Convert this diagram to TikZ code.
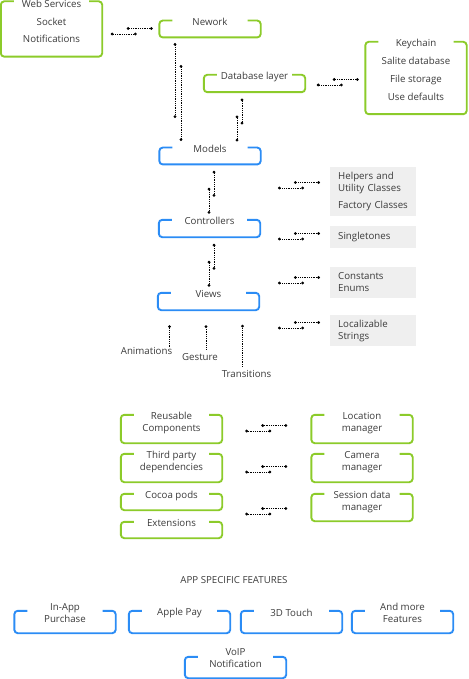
\documentclass[tikz,border=0pt]{standalone}
\usepackage{fontspec}
\setmainfont{Open Sans}
\usepackage{tikz}
\usetikzlibrary{calc,arrows.meta}
\definecolor{leaf}{HTML}{8CCB2A}
\definecolor{sky}{HTML}{2B8CF5}
\definecolor{mist}{HTML}{EFEFEF}
\definecolor{ink}{HTML}{3B3B3B}

\begin{document}
\begin{tikzpicture}[
  x=1pt, y=-1pt,
  font=\fontsize{9.7}{12}\selectfont,
  text=ink,
  inner sep=0pt,
  panel/.style={
    minimum width=101pt,
    minimum height=#1,
  },
  txt/.style={anchor=north, yshift=3pt, align=center},
  ctr/.style={anchor=center, yshift=-2.3pt, align=center},
  bracket/.style={
    line width=1.9pt,
    rounded corners=3.5pt,
  },
  note/.style={
    fill=mist,
    text width=70pt,
    align=left,
    inner xsep=8pt,
    minimum height=#1,
    anchor=west,
  },
  dotlink/.style={
    line width=0.7pt,
    dash pattern=on 0.7pt off 1.1pt,
    {Circle[length=2.8pt]}-{Circle[length=2.8pt]},
  },
  stem/.style={
    line width=0.7pt,
    dash pattern=on 0.7pt off 1.1pt,
    -{Circle[length=2.8pt]},
  }]
  \useasboundingbox (0,0) rectangle (468,679);

  % top part
  \node[panel=55pt, label={[txt, yshift=-2pt]north:{Web Services\\[5.5pt]Socket\\[5.5pt]Notifications}}] (web) at (51.5,29) {};
  \node[panel=16.5pt, label={[txt]north:{Nework}}] (net) at (210,29) {};
  \node[panel=17pt, label={[txt]north:{Database layer}}] (db) at (254.5,83.5) {};
  \node[panel=72pt, label={[txt]north:{Keychain\\[6pt]Salite database\\[6pt]File storage\\[6pt]Use defaults}}] (keys) at (416,78) {};
  \node[panel=16.5pt, label={[txt]north:{Models}}] (models) at (210,156) {};
  \node[panel=17pt, label={[txt]north:{Controllers}}] (ctrl) at (209.5,228.5) {};
  \node[panel=17pt, label={[txt]north:{Views}}] (views) at (208.5,301.5) {};

  \node[note=49pt] (help) at (330,191.5) {Helpers~and\\Utility~Classes\\[5pt]Factory~Classes};
  \node[note=22pt] (single) at (330,237) {Singletones};
  \node[note=31pt] (const) at (330,282.5) {Constants\\Enums};
  \node[note=31pt] (local) at (330,330.5) {Localizable\\Strings};

  \node (anim) at (146.5,351) {Animations};
  \node (gest) at (200,357) {Gesture};
  \node (trans) at (246.5,374) {Transitions};

  % middle part
  \node[panel=28pt, label={[txt]north:{Reusable\\Components}}] (reuse) at (171.5,429) {};
  \node[panel=28pt, label={[txt]north:{Third party\\dependencies}}] (third) at (171.5,468) {};
  \node[panel=16pt, label={[txt]north:{Cocoa pods}}] (pods) at (171.5,502) {};
  \node[panel=16pt, label={[txt]north:{Extensions}}] (ext) at (171.5,530) {};
  \node[panel=28pt, label={[txt]north:{Location\\manager}}] (loc) at (362,429) {};
  \node[panel=28pt, label={[txt]north:{Camera\\manager}}] (cam) at (362,468) {};
  \node[panel=27pt, label={[txt]north:{Session data\\manager}}] (sess) at (362,507.5) {};

  % app specific features
  \node (head) at (234,580) {APP SPECIFIC FEATURES};
  \node[panel=22pt, label={[ctr]north:{In-App\\Purchase}}] (iap) at (65,622) {};
  \node[panel=22pt, label={[ctr]north:{Apple Pay}}] (pay) at (179.5,622) {};
  \node[panel=22pt, label={[ctr]north:{3D Touch}}] (touch) at (291.5,622) {};
  \node[panel=22pt, label={[ctr]north:{And more\\Features}}] (more) at (402.5,622) {};
  \node[panel=21pt, label={[ctr, yshift=1.5pt]north:{VoIP\\Notification}}] (voip) at (235.5,667.5) {};

  \foreach \n/\c in {web/leaf, net/leaf, db/leaf, keys/leaf, reuse/leaf, third/leaf, pods/leaf, ext/leaf, loc/leaf, cam/leaf, sess/leaf, models/sky, ctrl/sky, views/sky, iap/sky, pay/sky, touch/sky, more/sky, voip/sky}
    \draw[bracket, draw=\c] ($(\n.north west)+(13,0)$) -- (\n.north west) -- (\n.south west)
      -- (\n.south east) -- (\n.north east) -- ($(\n.north east)+(-13,0)$);

  % dotted pairs
  \draw[dotlink] ($(models.north)+(-35,-104.5)$) -- ++(0,75);
  \draw[dotlink] ($(models.north)+(-29,-82.5)$) -- ++(0,76);
  \foreach \n/\dx in {models/32, ctrl/4.5, views/5.5}
  {
    \draw[dotlink] ($(\n.north)+(\dx,-49)$) -- ++(0,26);
    \draw[dotlink] ($(\n.north)+(\dx-5,-32)$) -- ++(0,26);
  }
  \foreach \n/\dx/\dy in {net/-48.5/5, keys/-48.5/7, help/-52/-3.5, single/-52/2, const/-52/0.5, local/-52/-2.5, loc/-66/2, cam/-66/4, sess/-66/6.5}
  {
    \draw[dotlink] ($(\n.west)+(\dx,\dy)$) -- ++(26,0);
    \draw[dotlink] ($(\n.west)+(\dx+16,\dy-5.5)$) -- ++(26,0);
  }
  \draw[stem] ($(anim.north)+(23,0)$) -- ++(0,-22);
  \draw[stem] ($(gest.north)+(6,-4)$) -- ++(0,-24);
  \draw[stem] ($(trans.north)+(-4,-3.5)$) -- ++(0,-42);
\end{tikzpicture}
\end{document}
